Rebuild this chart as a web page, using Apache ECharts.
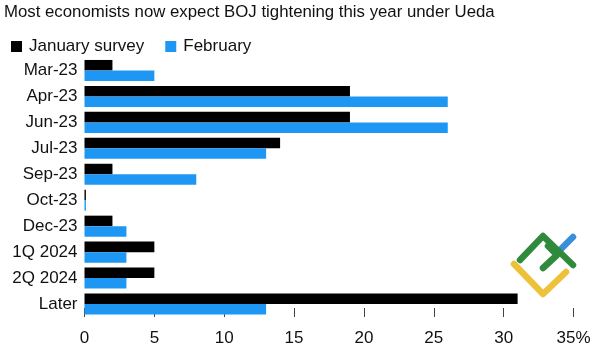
<!DOCTYPE html>
<html>
<head>
<meta charset="utf-8">
<script src="https://cdn.jsdelivr.net/npm/echarts@6/dist/echarts.min.js"></script>
<style>
html,body{margin:0;padding:0;background:#fff;}
#c{width:599px;height:360px;}
</style>
</head>
<body>
<div id="c"></div>
<script>
const categories = ["Mar-23","Apr-23","Jun-23","Jul-23","Sep-23","Oct-23","Dec-23","1Q 2024","2Q 2024","Later"];
const january = [2, 19, 19, 14, 2, 0.1, 2, 5, 5, 31];
const february = [5, 26, 26, 13, 8, 0.1, 3, 3, 3, 13];
const xTicks = [0, 5, 10, 15, 20, 25, 30, 35];

const FONT = '"Liberation Sans", Arial, sans-serif';
const chart = echarts.init(document.getElementById('c'));
chart.setOption({
  animation: false,
  backgroundColor: '#fff',
  title: {
    text: 'Most economists now expect BOJ tightening this year under Ueda',
    left: 4, top: 4, padding: 0,
    textStyle: {fontFamily: FONT, fontSize: 16.8, fontWeight: 'normal', color: '#111'}
  },
  legend: {
    left: 6, top: 33,
    itemWidth: 11, itemHeight: 11, itemGap: 21,
    icon: 'rect',
    textStyle: {fontFamily: FONT, fontSize: 17, color: '#111', padding: [0,0,0,2]},
    data: ['January survey', 'February']
  },
  grid: {left: 84.5, right: 25.5, top: 57.5, bottom: 43, containLabel: false},
  xAxis: {
    type: 'value', min: 0, max: 35, interval: 5,
    axisLine: {show: false},
    splitLine: {show: false},
    axisTick: {show: true, inside: true, length: 9, lineStyle: {color: '#444', width: 1}},
    axisLabel: {
      margin: 13, fontFamily: FONT, fontSize: 17, color: '#111',
      formatter: v => xTicks.includes(v) ? (v === 35 ? '35%' : String(v)) : ''
    }
  },
  yAxis: {
    type: 'category', data: categories, inverse: true,
    axisLine: {show: false}, axisTick: {show: false},
    axisLabel: {margin: 7, fontFamily: FONT, fontSize: 17, color: '#111'}
  },
  series: [
    {name: 'January survey', type: 'bar', data: january, barGap: '0%', barCategoryGap: '19%',
     itemStyle: {color: '#000'}},
    {name: 'February', type: 'bar', data: february, barGap: '0%', barCategoryGap: '19%',
     itemStyle: {color: '#1d97f3'}}
  ],
  graphic: [
    {type: 'polyline', shape: {points: [[514,264],[543,294],[566,272]]},
     style: {stroke: '#eec13a', lineWidth: 6.5, lineCap: 'round', lineJoin: 'round', fill: null}},
    {type: 'polyline', shape: {points: [[560,250],[573,237]]},
     style: {stroke: '#3a8fdc', lineWidth: 6.5, lineCap: 'round', fill: null}},
    {type: 'polyline', shape: {points: [[520,260],[543,236],[573,265]]},
     style: {stroke: '#2f8a3c', lineWidth: 6.5, lineCap: 'round', lineJoin: 'round', fill: null}},
    {type: 'polyline', shape: {points: [[543,268],[557,255],[548,246]]},
     style: {stroke: '#2f8a3c', lineWidth: 6.5, lineCap: 'round', lineJoin: 'round', fill: null}}
  ]
});
</script>
</body>
</html>
